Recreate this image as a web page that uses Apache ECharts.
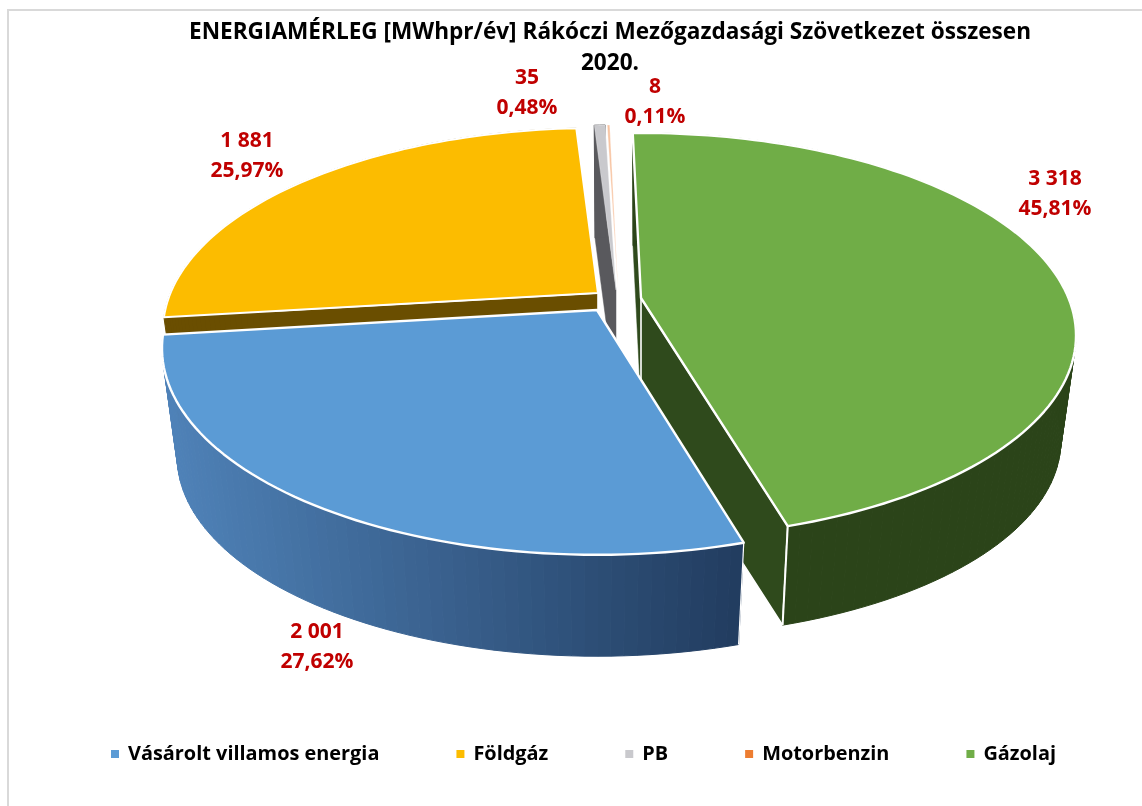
<!DOCTYPE html>
<html><head><meta charset="utf-8">
<style>html,body{margin:0;padding:0;background:#fff}#c{width:1142px;height:806px}</style>
<script src="https://cdn.jsdelivr.net/npm/echarts@6/dist/echarts.min.js"></script>
</head><body><div id="c"></div>
<script>
// data
const categories = ['Vásárolt villamos energia','Földgáz','PB','Motorbenzin','Gázolaj'];
const values = [2001,1881,35,8,3318];
const percents = [27.62,25.97,0.48,0.11,45.81];
const topColors = ['#5b9bd5','#fcbc00','#c9c9cd','#ed7d31','#70ad47'];
const chartTitle = 'ENERGIAMÉRLEG [MWhpr/év] Rákóczi Mezőgazdasági Szövetkezet összesen\n2020.';

// layout
const FONT = '"Open Sans"';
const startAngle = 163.6;
const A = 427.5, B = 195.6, K = 0.185, F = 0.965;
const depths = [110,107,107,107,107];
const yScale = [1.02,1,1,1,1];
const apex = [[597,310],[598,293],[616,290],[618,290],[641,298]];
const zOrder = [5,1,2,3,4];
const edgeW = [2.4,2,0.3,0.8,2.4];
const topOpacity = [1,1,1,0.45,1];
const wallFrom = ['#213c5f','#6a4e00','#59595d',null,'#2b4419'];
const wallTo = ['#4f82b8','#6a4e00','#59595d',null,'#2b4419'];
const faceColors = ['#213c5f','#6a4e00','#59595d',null,'#2f4a1c'];
const faceEnds = [[],[0],[0],[],[0,1]];
const faceStrokeEnd = [null,0,null,null,1];
const edgeEnds = [[0],[],[],[],[1]];
const labelPos = [[317,647],[247,156],[527,93],[655,102],[1055,194]];

const total = values.reduce((a,b)=>a+b,0);
const rgb = h => [1,3,5].map(i=>parseInt(h.substr(i,2),16));
const mix = (a,b,t)=>{const p=rgb(a),q=rgb(b);return 'rgb('+p.map((x,i)=>Math.round(x+(q[i]-x)*t)).join(',')+')';};
const fmtVal = v => String(v).replace(/\B(?=(\d{3})+$)/g,' ');
const fmtPct = p => p.toFixed(2).replace('.',',')+'%';

function proj(i,deg,bottom){
  const t=deg*Math.PI/180,u=Math.sin(t),v=Math.cos(t),s=1/(1+K*v);
  const dx=A*u*s,dy=-B*v*s*yScale[i],[ax,ay]=apex[i];
  return bottom?[ax+F*dx,ay+depths[i]+F*dy]:[ax+dx,ay+dy];
}
function renderSlice(i){
  let before=0; for(let j=0;j<i;j++) before+=values[j];
  const a0=startAngle+before/total*360, a1=a0+values[i]/total*360;
  const ends=[a0,a1];
  const n=Math.max(2,Math.ceil((a1-a0)/1.5));
  const ang=k=>a0+(a1-a0)*k/n;
  const [ax,ay]=apex[i];
  const children=[];
  if(faceColors[i]){
    // cut faces
    faceEnds[i].forEach(e=>{
      const d=ends[e], white=faceStrokeEnd[i]===e;
      children.push({type:'polygon',silent:true,
        shape:{points:[[ax,ay],proj(i,d,false),proj(i,d,true),[ax,ay+depths[i]]]},
        style:{fill:faceColors[i],stroke:white?'#fff':faceColors[i],lineWidth:white?1.6:0.5}});
    });
    // outer wall strips
    const x0=proj(i,a0,false)[0],x1=proj(i,a1,false)[0];
    for(let k=0;k<n;k++){
      const px=proj(i,ang(k+0.5),false)[0];
      const t=Math.max(0,Math.min(1,x1===x0?0:(px-x0)/(x1-x0)));
      const c=mix(wallFrom[i],wallTo[i],t);
      children.push({type:'polygon',silent:true,
        shape:{points:[proj(i,ang(k),false),proj(i,ang(k+1),false),proj(i,ang(k+1),true),proj(i,ang(k),true)]},
        style:{fill:c,stroke:c,lineWidth:1}});
    }
    // vertical edges on the front
    edgeEnds[i].forEach(e=>{
      const p=proj(i,ends[e],false),q=proj(i,ends[e],true);
      children.push({type:'line',silent:true,shape:{x1:p[0],y1:p[1],x2:q[0],y2:q[1]},
        style:{stroke:'#fff',lineWidth:i===4?2:1.2}});
    });
  }
  // top surface
  const pts=[[ax,ay]];
  for(let k=0;k<=n;k++) pts.push(proj(i,ang(k),false));
  children.push({type:'polygon',silent:true,shape:{points:pts},
    style:{fill:topColors[i],opacity:topOpacity[i],stroke:'#fff',lineWidth:edgeW[i],lineJoin:'round'}});
  // label
  children.push({type:'text',silent:true,z2:100,style:{
    text:fmtVal(values[i])+'\n'+fmtPct(percents[i]),
    x:labelPos[i][0],y:labelPos[i][1],align:'center',verticalAlign:'middle',
    fill:'#c00000',font:'bold 21px '+FONT,lineHeight:30}});
  return {type:'group',children};
}

const chart=echarts.init(document.getElementById('c'),null,{renderer:'canvas'});
chart.setOption({
  animation:false,
  backgroundColor:'#fff',
  title:{text:chartTitle,left:605,top:12,textAlign:'center',
    textStyle:{fontFamily:FONT,fontWeight:'bold',fontSize:22.6,color:'#000',lineHeight:31}},
  legend:{data:categories,left:106,top:739,itemWidth:8,itemHeight:8,itemGap:77,icon:'rect',selectedMode:false,
    textStyle:{fontFamily:FONT,fontWeight:'bold',fontSize:19.9,color:'#000',padding:[0,0,0,4]}},
  graphic:[{type:'polyline',silent:true,shape:{points:[[1142,10],[8,10],[8,806]]},
    style:{fill:null,stroke:'#d9d9d9',lineWidth:2}}],
  series:categories.map((name,i)=>({
    name,type:'custom',coordinateSystem:'none',z:zOrder[i]+1,
    itemStyle:{color:topColors[i]},
    data:[values[i]],
    renderItem:()=>renderSlice(i)
  }))
});
</script></body></html>
